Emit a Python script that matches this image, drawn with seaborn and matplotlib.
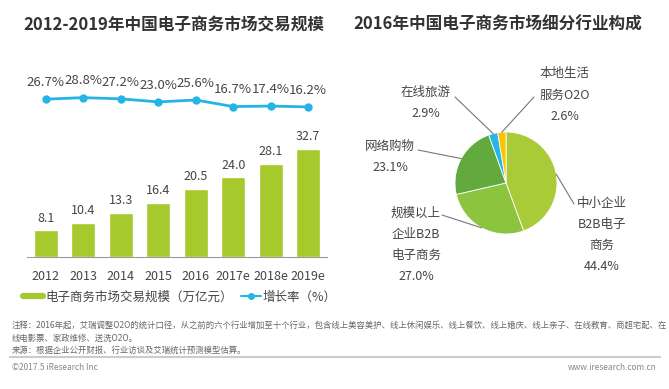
import numpy as np
import matplotlib.pyplot as plt
import seaborn as sns
from matplotlib.lines import Line2D

sns.set_style("white")
plt.rcParams['font.family'] = ['Noto Sans CJK SC', 'DejaVu Sans']

# 数据
years = ['2012', '2013', '2014', '2015', '2016', '2017e', '2018e', '2019e']
scale = [8.1, 10.4, 13.3, 16.4, 20.5, 24.0, 28.1, 32.7]
growth = [26.7, 28.8, 27.2, 23.0, 25.6, 16.7, 17.4, 16.2]

seg_names = ['中小企业\nB2B电子\n商务', '规模以上\n企业B2B\n电子商务', '网络购物', '在线旅游', '本地生活\n服务O2O']
seg_share = [44.4, 27.0, 23.1, 2.9, 2.6]
seg_colors = ['#a9cb38', '#8cc43f', '#62a93e', '#27b4e6', '#f9c300']

W, H = 669, 389
def px(x, y):
    return x / W, 1 - y / H

bar_c = '#a6c92d'
line_c = '#25b4e3'
txt_c = '#454545'

fig = plt.figure(figsize=(W / 100, H / 100), dpi=100)
fig.patch.set_facecolor('white')

# 左图：柱状 + 增长率
ax = fig.add_axes([27 / W, 132 / H, 300 / W, 197 / H])
sns.barplot(x=years, y=scale, color=bar_c, saturation=1, width=0.64, ax=ax)
ax.set_xlim(-0.5, 7.5)
ax.set_ylim(0, 59.4)
ax.bar_label(ax.containers[0], labels=[f'{v:.1f}' for v in scale],
             padding=4, fontsize=9, color=txt_c)
ax.set_yticks([])
ax.set_ylabel('')
for s in ['top', 'right', 'left']:
    ax.spines[s].set_visible(False)
ax.spines['bottom'].set_color('#9a9a9a')
ax.tick_params(axis='x', length=0, pad=9, labelsize=9, labelcolor=txt_c)

tw = ax.twinx()
sns.lineplot(x=np.arange(len(years)), y=growth, ax=tw, color=line_c, lw=2,
             marker='o', markersize=6, markeredgewidth=0)
tw.set_ylim(-187.1, 79.8)
tw.set_xlim(-0.5, 7.5)
tw.set_yticks([])
tw.set_ylabel('')
for s in tw.spines.values():
    s.set_visible(False)
for i, g in enumerate(growth):
    tw.annotate(f'{g:.1f}%', (i, g), xytext=(0, 12), textcoords='offset points',
                ha='center', va='center', fontsize=9.5, color=txt_c)

handles = [Line2D([], [], color=bar_c, lw=4.5),
           Line2D([], [], color=line_c, lw=1.5, marker='o', markersize=4)]
fig.legend(handles, ['电子商务市场交易规模（万亿元）', '增长率（%）'],
           loc='center', bbox_to_anchor=px(180, 297), ncol=2, frameon=False,
           fontsize=9, handlelength=1.6, handletextpad=0.2, columnspacing=0.6,
           labelcolor=txt_c)

fig.text(*px(174, 25), '2012-2019年中国电子商务市场交易规模', ha='center', va='center',
         fontsize=12, fontweight='bold', color='#333333')

# 右图：饼图
cx, cy, r = 506, 183, 51
pax = fig.add_axes([(cx - r) / W, (H - cy - r) / H, 2 * r / W, 2 * r / H])
wedges, _ = pax.pie(seg_share, colors=seg_colors, startangle=90, counterclock=False,
                    wedgeprops=dict(edgecolor='white', linewidth=0.6))
pax.set_xlim(-1, 1)
pax.set_ylim(-1, 1)

label_pos = [(602, 235), (416, 245), (390, 157), (426, 103), (565, 95)]
line_from = [(574, 204), (442, 215), (418, 150), (455, 97), (534, 97)]
for w, name, share, (lx, ly), (fx, fy) in zip(wedges, seg_names, seg_share, label_pos, line_from):
    ang = np.deg2rad((w.theta1 + w.theta2) / 2)
    pax.annotate('', xy=(np.cos(ang), np.sin(ang)), xycoords='data',
                 xytext=(fx, H - fy), textcoords='figure pixels',
                 arrowprops=dict(arrowstyle='-', color='#777777', lw=0.8,
                                 shrinkA=0, shrinkB=0))
    fig.text(*px(lx, ly), f'{name}\n{share:.1f}%', ha='center', va='center',
             fontsize=9, color=txt_c, linespacing=1.8)

fig.text(*px(498, 25), '2016年中国电子商务市场细分行业构成', ha='center', va='center',
         fontsize=12, fontweight='bold', color='#333333')

# 注释与来源
note_c = '#666666'
fig.text(*px(12, 325), '注释：2016年起，艾瑞调整O2O的统计口径，从之前的六个行业增加至十个行业，包含线上美容美护、线上休闲娱乐、线上餐饮、线上婚庆、线上亲子、在线教育、商超宅配、在',
         fontsize=6, color=note_c, va='center', ha='left')
fig.text(*px(12, 338), '线电影票、家政维修、送洗O2O。', fontsize=6, color=note_c, va='center', ha='left')
fig.text(*px(12, 350), '来源：根据企业公开财报、行业访谈及艾瑞统计预测模型估算。', fontsize=6, color=note_c,
         va='center', ha='left')
fig.add_artist(Line2D([10 / W, 660 / W], [1 - 357 / H] * 2, color='#cccccc', lw=1.5))
fig.text(*px(12, 367), '©2017.5 iResearch Inc', fontsize=6, color='#888888', va='center', ha='left')
fig.text(*px(657, 367), 'www.iresearch.com.cn', fontsize=6, color='#888888', va='center', ha='right')

fig.savefig('out.png', dpi=100, facecolor='white')
